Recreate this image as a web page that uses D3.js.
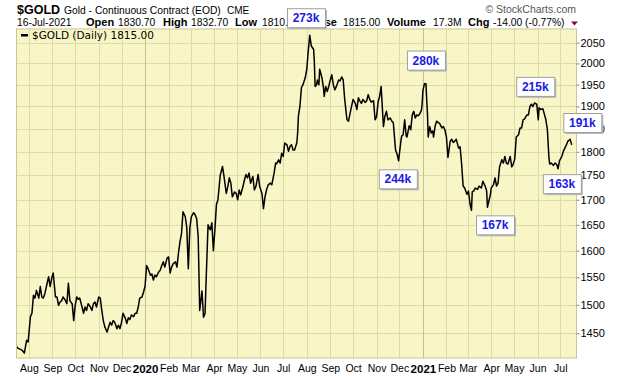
<!DOCTYPE html>
<html lang="en">
<head>
<meta charset="utf-8">
<script src="https://cdnjs.cloudflare.com/ajax/libs/d3/7.8.5/d3.min.js"></script>
<style>
  body { margin: 0; background: #fff; }
  svg text { font-family: "Liberation Sans", Arial, sans-serif; }
  .axis path { display: none; }
  .axis line { stroke: #8c8c70; }
  .axis text { fill: #000; }
</style>
</head>
<body>
<div id="chart"></div>
<script>
  // Daily closes (one line per month)
  const dates = [
    "2019-07-16","2019-07-18","2019-07-23","2019-07-26","2019-07-29","2019-07-31",
    "2019-08-03","2019-08-05","2019-08-07","2019-08-09","2019-08-11","2019-08-14","2019-08-16","2019-08-18","2019-08-20","2019-08-22","2019-08-25","2019-08-27","2019-08-29","2019-08-31",
    "2019-09-02","2019-09-05","2019-09-07","2019-09-09","2019-09-11","2019-09-13","2019-09-15","2019-09-18","2019-09-20","2019-09-22","2019-09-24","2019-09-27","2019-09-29",
    "2019-10-01","2019-10-03","2019-10-05","2019-10-07","2019-10-10","2019-10-12","2019-10-14","2019-10-16","2019-10-18","2019-10-21","2019-10-23","2019-10-25","2019-10-27","2019-10-29",
    "2019-11-01","2019-11-03","2019-11-05","2019-11-07","2019-11-09","2019-11-12","2019-11-14","2019-11-16","2019-11-18","2019-11-20","2019-11-22","2019-11-25","2019-11-27","2019-11-29",
    "2019-12-01","2019-12-03","2019-12-06","2019-12-08","2019-12-10","2019-12-12","2019-12-14","2019-12-17","2019-12-19","2019-12-21","2019-12-23","2019-12-25","2019-12-28","2019-12-30",
    "2020-01-01","2020-01-03","2020-01-05","2020-01-08","2020-01-10","2020-01-12","2020-01-14","2020-01-16","2020-01-19","2020-01-21","2020-01-23","2020-01-25","2020-01-27","2020-01-30",
    "2020-02-01","2020-02-03","2020-02-05","2020-02-07","2020-02-10","2020-02-12","2020-02-14","2020-02-16","2020-02-18","2020-02-20","2020-02-23","2020-02-25","2020-02-27","2020-02-29",
    "2020-03-02","2020-03-05","2020-03-07","2020-03-09","2020-03-11","2020-03-13","2020-03-16","2020-03-18","2020-03-20","2020-03-22","2020-03-24","2020-03-27","2020-03-29","2020-03-31",
    "2020-04-02","2020-04-04","2020-04-06","2020-04-09","2020-04-12","2020-04-14","2020-04-17","2020-04-19","2020-04-21","2020-04-23","2020-04-25","2020-04-28","2020-04-30",
    "2020-05-02","2020-05-04","2020-05-06","2020-05-09","2020-05-11","2020-05-13","2020-05-15","2020-05-17","2020-05-19","2020-05-22","2020-05-24","2020-05-26","2020-05-29","2020-05-31",
    "2020-06-03","2020-06-05","2020-06-07","2020-06-09","2020-06-11","2020-06-14","2020-06-16","2020-06-19","2020-06-21","2020-06-22","2020-06-25","2020-06-27","2020-06-29",
    "2020-07-01","2020-07-03","2020-07-06","2020-07-08","2020-07-10","2020-07-12","2020-07-14","2020-07-16","2020-07-19","2020-07-20","2020-07-21","2020-07-23","2020-07-25","2020-07-27","2020-07-30",
    "2020-08-01","2020-08-03","2020-08-05","2020-08-07","2020-08-10","2020-08-11","2020-08-12","2020-08-14","2020-08-15","2020-08-17","2020-08-18","2020-08-21","2020-08-23","2020-08-24","2020-08-26","2020-08-28","2020-08-30",
    "2020-09-01","2020-09-03","2020-09-05","2020-09-07","2020-09-09","2020-09-12","2020-09-14","2020-09-16","2020-09-18","2020-09-20","2020-09-23","2020-09-25","2020-09-27","2020-09-29",
    "2020-10-01","2020-10-04","2020-10-06","2020-10-08","2020-10-10","2020-10-12","2020-10-14","2020-10-17","2020-10-19","2020-10-21","2020-10-23","2020-10-25","2020-10-28","2020-10-30",
    "2020-11-01","2020-11-03","2020-11-05","2020-11-07","2020-11-10","2020-11-12","2020-11-14","2020-11-16","2020-11-19","2020-11-21","2020-11-23","2020-11-25","2020-11-26","2020-11-28","2020-11-30",
    "2020-12-01","2020-12-03","2020-12-04","2020-12-06","2020-12-08","2020-12-10","2020-12-11","2020-12-14","2020-12-16","2020-12-18","2020-12-20","2020-12-22","2020-12-24","2020-12-26","2020-12-28","2020-12-30","2020-12-31",
    "2021-01-01","2021-01-03","2021-01-05","2021-01-06","2021-01-07","2021-01-08","2021-01-10","2021-01-12","2021-01-14","2021-01-15","2021-01-17","2021-01-19","2021-01-21","2021-01-23","2021-01-26","2021-01-28","2021-01-30",
    "2021-02-01","2021-02-03","2021-02-06","2021-02-08","2021-02-10","2021-02-12","2021-02-14","2021-02-17","2021-02-19","2021-02-21","2021-02-23","2021-02-25","2021-02-28",
    "2021-03-02","2021-03-04","2021-03-06","2021-03-07","2021-03-09","2021-03-11","2021-03-14","2021-03-16","2021-03-19","2021-03-21","2021-03-24","2021-03-26","2021-03-27","2021-03-29","2021-03-31",
    "2021-04-01","2021-04-04","2021-04-06","2021-04-08","2021-04-10","2021-04-12","2021-04-15","2021-04-17","2021-04-19","2021-04-21","2021-04-23","2021-04-26","2021-04-28","2021-04-30",
    "2021-05-02","2021-05-04","2021-05-07","2021-05-09","2021-05-11","2021-05-13","2021-05-15","2021-05-18","2021-05-20","2021-05-22","2021-05-24","2021-05-26","2021-05-28","2021-05-31",
    "2021-06-02","2021-06-03","2021-06-05","2021-06-08","2021-06-09","2021-06-12","2021-06-14","2021-06-16","2021-06-17","2021-06-19","2021-06-22","2021-06-24","2021-06-26","2021-06-28","2021-06-30",
    "2021-07-03","2021-07-05","2021-07-07","2021-07-09","2021-07-11","2021-07-14","2021-07-16"
  ];
  const closes = [
    1427,1424,1421,1416,1438,1435,
    1479,1485,1517,1512,1526,1512,1533,1514,1512,1520,1539,1551,1533,1548,
    1558,1514,1514,1499,1505,1507,1514,1508,1502,1539,1507,1502,1472,
    1499,1514,1510,1512,1496,1485,1496,1490,1502,1496,1490,1502,1505,1496,
    1514,1512,1490,1472,1461,1452,1461,1469,1464,1472,1469,1458,1464,1458,
    1469,1485,1476,1467,1477,1474,1482,1479,1485,1485,1496,1512,1514,1523,
    1533,1572,1566,1554,1556,1545,1554,1551,1560,1563,1572,1579,1569,1586,
    1588,1558,1569,1575,1579,1569,1595,1617,1633,1676,1666,1644,1566,1644,
    1666,1674,1670,1662,1627,1490,1525,1478,1484,1567,1650,1640,1654,1600,
    1640,1690,1700,1750,1769,1748,1713,1727,1745,1734,1706,1716,1713,
    1700,1720,1710,1727,1741,1752,1745,1755,1734,1748,1720,1727,1752,1727,
    1713,1682,1706,1720,1730,1734,1731,1755,1776,1774,1783,1776,1797,
    1790,1819,1815,1801,1812,1815,1804,1804,1820,1841,1878,1900,1943,1950,1966,
    1986,2030,2068,2042,2034,2005,1946,1950,1961,1950,1986,1966,1943,1923,1946,1934,1946,
    1961,1973,1950,1938,1946,1961,1959,1968,1961,1916,1870,1867,1884,1900,
    1916,1907,1893,1920,1912,1907,1916,1909,1913,1927,1916,1910,1913,1870,
    1877,1910,1923,1946,1855,1878,1889,1870,1874,1867,1864,1823,1804,1795,1781,
    1795,1823,1834,1837,1870,1834,1832,1857,1848,1881,1889,1874,1881,1879,1884,1891,1905,
    1936,1952,1952,1916,1884,1832,1855,1841,1845,1832,1855,1867,1864,1862,1852,1855,1848,
    1832,1788,1823,1827,1820,1823,1827,1808,1811,1774,1728,1724,1711,
    1718,1692,1679,1716,1718,1724,1721,1728,1724,1738,1728,1718,1685,1698,1711,
    1724,1731,1745,1728,1734,1768,1783,1776,1790,1776,1774,1790,1768,1774,
    1785,1832,1837,1852,1852,1870,1872,1881,1881,1900,1905,1900,1908,1905,
    1870,1897,1893,1895,1889,1870,1848,1788,1774,1776,1771,1776,1774,1764,1781,
    1790,1801,1808,1815,1823,1827,1815
  ];

  // axis ranges and ticks
  const xStart = "2019-07-15", xEnd = "2021-07-23";
  const priceMin = 1407, priceMax = 2085;
  const priceTicks = [1450, 1500, 1550, 1600, 1650, 1700, 1750, 1800, 1850, 1900, 1950, 2000, 2050];
  const firstMonth = "2019-08-01", lastMonth = "2021-08-01";

  // volume callouts (label, date, price of box centre)
  const calloutLabels = ["273k", "280k", "244k", "215k", "167k", "163k", "191k"];
  const calloutDates = ["2020-07-31", "2021-01-05", "2020-11-29", "2021-05-29", "2021-04-06", "2021-07-03", "2021-07-30"];
  const calloutPrices = [2112, 2008, 1743, 1946, 1650, 1733, 1864];

  const svgWidth = 620, svgHeight = 376;
  const plot = {left: 16, right: 577, top: 28.5, bottom: 358.5};
  const parse = d3.timeParse("%Y-%m-%d");

  const data = dates.map((d, i) => ({date: parse(d), close: closes[i]}));

  const svg = d3.select("#chart").append("svg")
    .attr("width", svgWidth)
    .attr("height", svgHeight);

  const x = d3.scaleTime().domain([parse(xStart), parse(xEnd)]).range([plot.left, plot.right]);
  const y = d3.scaleLog().domain([priceMin, priceMax]).range([plot.bottom, plot.top]);

  const months = d3.timeMonth.range(parse(firstMonth), parse(lastMonth));

  // plot background
  svg.append("rect")
    .attr("x", plot.left).attr("y", plot.top)
    .attr("width", plot.right - plot.left).attr("height", plot.bottom - plot.top)
    .attr("fill", "#f8f6c6");

  // grid
  svg.append("g").selectAll("line").data(priceTicks).enter().append("line")
    .attr("x1", plot.left).attr("x2", plot.right)
    .attr("y1", d => Math.round(y(d)) + 0.5).attr("y2", d => Math.round(y(d)) + 0.5)
    .attr("stroke", "#dedca6");
  svg.append("g").selectAll("line").data(months).enter().append("line")
    .attr("x1", d => Math.round(x(d)) + 0.5).attr("x2", d => Math.round(x(d)) + 0.5)
    .attr("y1", plot.top).attr("y2", plot.bottom)
    .attr("stroke", d => d.getMonth() === 0 ? "#c4c28e" : "#dedca6");

  // price line
  svg.append("path")
    .datum(data)
    .attr("fill", "none")
    .attr("stroke", "#000")
    .attr("stroke-width", 1.5)
    .attr("stroke-linejoin", "round")
    .attr("d", d3.line().x(d => x(d.date)).y(d => y(d.close)));

  // border
  svg.append("rect")
    .attr("x", plot.left + 0.5).attr("y", plot.top + 0.5)
    .attr("width", plot.right - plot.left - 1).attr("height", plot.bottom - plot.top - 1)
    .attr("fill", "none").attr("stroke", "#c9c79a");

  // axes
  const xAxis = svg.append("g").attr("class", "axis")
    .attr("transform", "translate(0," + plot.bottom + ")")
    .call(d3.axisBottom(x).tickValues(months).tickSize(0).tickPadding(6)
      .tickFormat(d => d.getMonth() === 0 ? d3.timeFormat("%Y")(d) : d3.timeFormat("%b")(d)));
  xAxis.selectAll("text")
    .style("font-size", d => d.getMonth() === 0 ? "11.5px" : "10.5px")
    .style("font-weight", d => d.getMonth() === 0 ? "bold" : "normal");

  svg.append("g").attr("class", "axis")
    .attr("transform", "translate(" + (plot.right - 0.5) + ",0)")
    .call(d3.axisRight(y).tickValues(priceTicks).tickSize(3).tickPadding(1).tickFormat(d3.format("d")))
    .selectAll("text").style("font-size", "11px");

  // legend
  svg.append("rect").attr("x", 21).attr("y", 34).attr("width", 7).attr("height", 2.5).attr("fill", "#000");
  svg.append("text").attr("x", 32).attr("y", 38.5)
    .style("font-family", "'DejaVu Sans', Verdana, sans-serif").style("font-size", "10.5px")
    .text("$GOLD (Daily) 1815.00");

  // header
  svg.append("text").attr("x", 17).attr("y", 14)
    .style("font-weight", "bold").style("font-size", "12.5px").text("$GOLD");
  svg.append("text").attr("x", 64).attr("y", 14).style("font-size", "10.3px").text("Gold - Continuous Contract (EOD)");
  svg.append("text").attr("x", 227).attr("y", 14).style("font-size", "10px").text("CME");

  const headPieces = [
    ["16-Jul-2021", 17, false], ["Open", 86, true], ["1830.70", 118, false],
    ["High", 163, true], ["1832.70", 191, false], ["Low", 235, true], ["1810.00", 262, false],
    ["Close", 307, true], ["1815.00", 343, false], ["Volume", 387, true], ["17.3M", 433, false],
    ["Chg", 468, true], ["-14.00 (-0.77%)", 493, false]
  ];
  svg.append("g").selectAll("text").data(headPieces).enter().append("text")
    .attr("x", d => d[1]).attr("y", 26)
    .style("font-weight", d => d[2] ? "bold" : "normal")
    .style("font-size", d => d[2] ? "11px" : "10.3px")
    .text(d => d[0]);
  svg.append("path").attr("d", "M571,21.5 L578,21.5 L574.5,25.5 Z").attr("fill", "#990033");

  svg.append("text").attr("x", 576).attr("y", 13).attr("text-anchor", "end")
    .style("font-size", "10.5px").attr("fill", "#555").text("\u00a9 StockCharts.com");

  // callouts
  const boxW = 38, boxH = 19;
  const callouts = svg.append("g").selectAll("g").data(calloutLabels).enter().append("g")
    .attr("transform", (d, i) => "translate(" + (x(parse(calloutDates[i])) - boxW / 2) + "," + (y(calloutPrices[i]) - boxH / 2) + ")");
  callouts.append("rect").attr("x", 2).attr("y", 2).attr("width", boxW).attr("height", boxH).attr("fill", "#b8b8b8");
  callouts.append("rect").attr("x", 0.5).attr("y", 0.5).attr("width", boxW).attr("height", boxH)
    .attr("fill", "#fff").attr("stroke", "#a0a0a0");
  callouts.append("text").attr("x", boxW / 2).attr("y", boxH / 2 + 4.5).attr("text-anchor", "middle")
    .style("font-weight", "bold").style("font-size", "12px").attr("fill", "#1a1ae6")
    .text(d => d);
</script>
</body>
</html>
